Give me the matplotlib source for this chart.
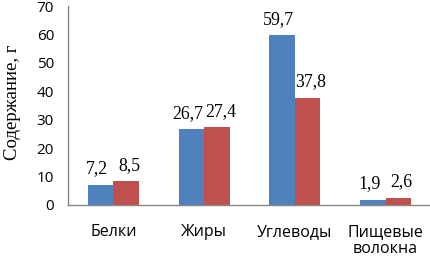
import matplotlib
matplotlib.use("Agg")
import matplotlib.pyplot as plt
import numpy as np

categories = ["Белки", "Жиры", "Углеводы", "Пищевые\nволокна"]
series1 = [7.2, 26.7, 59.7, 1.9]
series2 = [8.5, 27.4, 37.8, 2.6]
labels1 = ["7,2", "26,7", "59,7", "1,9"]
labels2 = ["8,5", "27,4", "37,8", "2,6"]
yticks = [0, 10, 20, 30, 40, 50, 60, 70]

fig = plt.figure(figsize=(4.31, 2.59), dpi=100)
ax = fig.add_axes([68/431, 1-205/259, 1-68/431, 199/259])

x = np.arange(len(categories))
w = 0.28
ax.bar(x - w/2, series1, w, color="#4F81BD")
ax.bar(x + w/2, series2, w, color="#C0504D")

for xi, v, t in zip(x - w/2, series1, labels1):
    ax.annotate(t, (xi, v), xytext=(-2.5, 8), textcoords="offset points",
                ha="center", va="baseline", family="Liberation Serif", fontsize=12.8)
for xi, v, t in zip(x + w/2, series2, labels2):
    ax.annotate(t, (xi, v), xytext=(2.5, 8), textcoords="offset points",
                ha="center", va="baseline", family="Liberation Serif", fontsize=12.8)

ax.set_xlim(-0.5, 3.5)
ax.set_ylim(0, 70)
ax.set_yticks(yticks)
ax.set_xticks(x)
ax.set_xticklabels(categories, family="Open Sans", fontsize=11.5, linespacing=1.05)
ax.tick_params(axis="both", length=0)
ax.tick_params(axis="y", pad=10, labelsize=11)
ax.tick_params(axis="x", pad=14)
for lab in ax.get_yticklabels():
    lab.set_family("Open Sans")

for s in ["top", "right"]:
    ax.spines[s].set_visible(False)
for s in ["left", "bottom"]:
    ax.spines[s].set_color("#868686")
    ax.spines[s].set_linewidth(1.0)

ax.set_ylabel("Содержание, г", family="Liberation Serif", fontsize=13.5)
ax.yaxis.set_label_coords(-0.13, 0.518)

fig.savefig("out.png", dpi=100)
